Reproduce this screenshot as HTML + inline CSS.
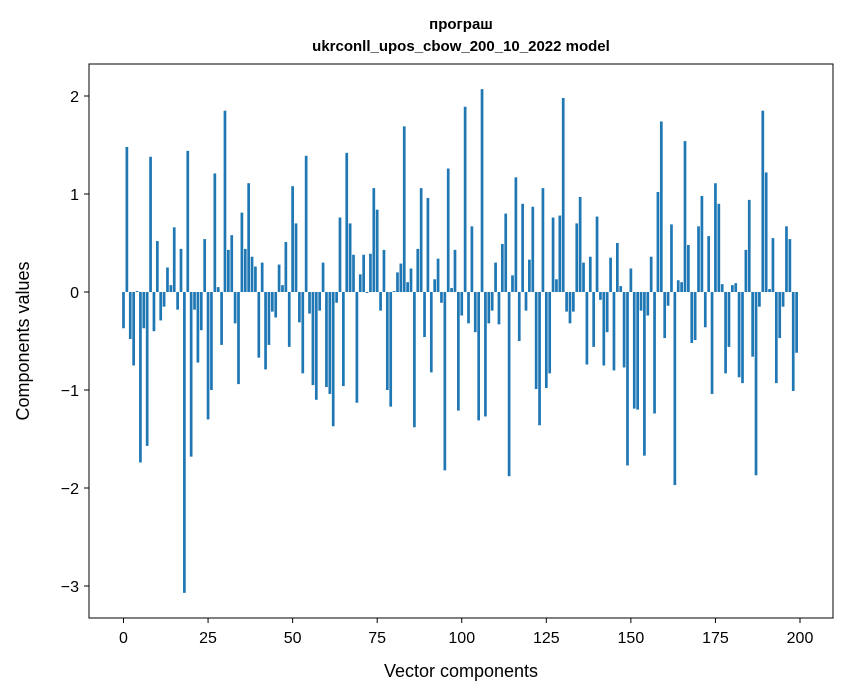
<!DOCTYPE html>
<html><head><meta charset="utf-8"><style>
body{margin:0;background:#fff}
svg{display:block;font-family:"Liberation Sans","DejaVu Sans",sans-serif}
</style></head><body>
<svg id="chart" width="847" height="696">
<text x="461" y="29" text-anchor="middle" font-size="15" font-weight="bold">програш</text>
<text x="461" y="51" text-anchor="middle" font-size="15" font-weight="bold">ukrconll_upos_cbow_200_10_2022 model</text>
<g id="bars"></g>
<g id="axes"></g>
<rect x="89" y="64" width="744" height="554" fill="none" stroke="#000" stroke-width="1"/>
<text x="461" y="677" text-anchor="middle" font-size="18">Vector components</text>
<text transform="translate(29,341) rotate(-90)" text-anchor="middle" font-size="18">Components values</text>
</svg>
<script>
const values = [-0.37,1.48,-0.48,-0.75,0.01,-1.74,-0.37,-1.57,1.38,-0.40,
0.52,-0.29,-0.15,0.25,0.07,0.66,-0.18,0.44,-3.07,1.44,
-1.68,-0.18,-0.72,-0.39,0.54,-1.30,-1.00,1.21,0.05,-0.54,
1.85,0.43,0.58,-0.32,-0.94,0.81,0.44,1.11,0.36,0.26,
-0.67,0.30,-0.79,-0.54,-0.20,-0.26,0.28,0.07,0.51,-0.56,
1.08,0.70,-0.31,-0.83,1.39,-0.22,-0.95,-1.10,-0.19,0.30,
-0.97,-1.04,-1.37,-0.11,0.76,-0.96,1.42,0.70,0.38,-1.13,
0.18,0.38,-0.01,0.39,1.06,0.84,-0.19,0.43,-1.00,-1.17,
0.01,0.20,0.29,1.69,0.10,0.24,-1.38,0.44,1.06,-0.46,
0.96,-0.82,0.13,0.34,-0.11,-1.82,1.26,0.04,0.43,-1.21,
-0.24,1.89,-0.32,0.67,-0.41,-1.31,2.07,-1.27,-0.32,-0.19,
0.30,-0.33,0.49,0.80,-1.88,0.17,1.17,-0.50,0.90,-0.19,
0.33,0.87,-0.99,-1.36,1.06,-0.98,-0.83,0.76,0.13,0.78,
1.98,-0.20,-0.32,-0.20,0.70,0.97,0.30,-0.74,0.36,-0.56,
0.77,-0.08,-0.75,-0.41,0.35,-0.80,0.50,0.06,-0.77,-1.77,
0.24,-1.19,-1.20,-0.19,-1.67,-0.24,0.36,-1.24,1.02,1.74,
-0.47,-0.14,0.69,-1.97,0.12,0.10,1.54,0.48,-0.52,-0.49,
0.67,0.98,-0.36,0.57,-1.04,1.11,0.90,0.08,-0.83,-0.56,
0.07,0.09,-0.87,-0.93,0.43,0.94,-0.66,-1.87,-0.15,1.85,
1.22,0.03,0.55,-0.93,-0.47,-0.15,0.67,0.54,-1.01,-0.62];
const xTicks = [0,25,50,75,100,125,150,175,200];
const yTicks = [-3,-2,-1,0,1,2];
const NS="http://www.w3.org/2000/svg";
function xs(v){return 123.5+3.3825*v;}
function ys(v){return 292-98*v;}
const bars=document.getElementById('bars');
values.forEach((v,i)=>{
  const r=document.createElementNS(NS,'rect');
  const w=0.8*3.3825;
  r.setAttribute('x',xs(i)-w/2);
  r.setAttribute('width',w);
  r.setAttribute('y',Math.min(ys(v),ys(0)));
  r.setAttribute('height',Math.abs(ys(v)-ys(0)));
  r.setAttribute('fill','#1f77b4');
  
  
  bars.appendChild(r);
});
const axes=document.getElementById('axes');
xTicks.forEach(t=>{
  const l=document.createElementNS(NS,'line');
  l.setAttribute('x1',xs(t));l.setAttribute('x2',xs(t));
  l.setAttribute('y1',618);l.setAttribute('y2',623);
  l.setAttribute('stroke','#000');
  
  
  axes.appendChild(l);
  const tx=document.createElementNS(NS,'text');
  tx.setAttribute('x',xs(t));tx.setAttribute('y',643);
  tx.setAttribute('text-anchor','middle');tx.setAttribute('font-size','16');
  tx.textContent=t;
  
  
  axes.appendChild(tx);
});
yTicks.forEach(t=>{
  const l=document.createElementNS(NS,'line');
  l.setAttribute('x1',84);l.setAttribute('x2',89);
  l.setAttribute('y1',ys(t));l.setAttribute('y2',ys(t));
  l.setAttribute('stroke','#000');
  
  
  axes.appendChild(l);
  const tx=document.createElementNS(NS,'text');
  tx.setAttribute('x',79);tx.setAttribute('y',ys(t)+6);
  tx.setAttribute('text-anchor','end');tx.setAttribute('font-size','16');
  tx.textContent=t<0?'\u2212'+Math.abs(t):String(t);
  
  
  axes.appendChild(tx);
});
</script>
</body></html>
